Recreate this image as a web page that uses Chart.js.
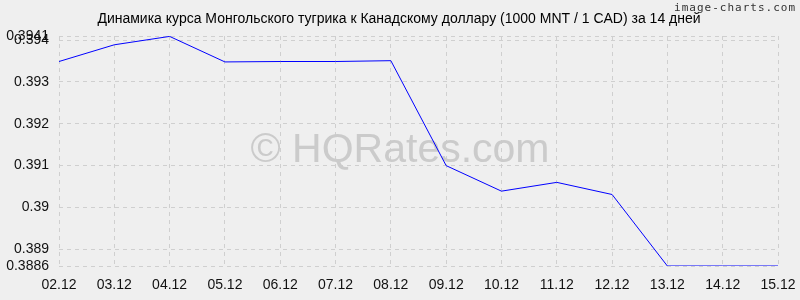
<!DOCTYPE html>
<html><head><meta charset="utf-8">
<script src="https://cdn.jsdelivr.net/npm/chart.js@4"></script>
<style>html,body{margin:0;padding:0;background:#efefef}#w{width:800px;height:300px}</style>
</head><body><div id="w"><canvas id="c" width="800" height="300"></canvas></div>
<script>
const categories = ["02.12","03.12","04.12","05.12","06.12","07.12","08.12","09.12","10.12","11.12","12.12","13.12","14.12","15.12"];
const rates = [0.39349,0.39389,0.39409,0.39348,0.39349,0.39349,0.39351,0.39100,0.39039,0.39060,0.39031,0.3886,0.3886,0.3886];
const yTicks = [0.3886,0.389,0.39,0.391,0.392,0.393,0.394,0.3941];
const titleText = "Динамика курса Монгольского тугрика к Канадскому доллару (1000 MNT / 1 CAD) за 14 дней";
const watermarkText = "© HQRates.com";
const creditText = "image-charts.com";

const deco = {
  id:'deco',
  beforeDraw(chart){
    const c = chart.ctx;
    c.save();
    c.fillStyle = '#efefef';
    c.fillRect(0,0,chart.width,chart.height);
    c.restore();
  },
  beforeDatasetsDraw(chart){
    const c = chart.ctx;
    c.save();
    c.fillStyle = '#cbcbcb';
    c.font = '41px "Liberation Sans", Arial, sans-serif';
    c.textAlign = 'center'; c.textBaseline = 'alphabetic';
    c.fillText(watermarkText, 400, 162);
    c.restore();
  },
  afterDraw(chart){
    const c = chart.ctx;
    c.save();
    c.fillStyle = '#000';
    c.font = '14px "Liberation Sans", Arial, sans-serif';
    c.textAlign = 'center'; c.textBaseline = 'alphabetic';
    c.fillText(titleText, 399, 23);
    c.fillStyle = '#333';
    c.font = '11px "DejaVu Sans Mono", monospace';
    c.letterSpacing = '1px';
    c.textAlign = 'right';
    c.fillText(creditText, 796, 11);
    c.restore();
  }
};

new Chart(document.getElementById('c'), {
  type:'line',
  data:{labels:categories, datasets:[{data:rates, borderColor:'#0000ff', borderWidth:1, pointRadius:0, tension:0, fill:false}]},
  plugins:[deco],
  options:{
    responsive:false, animation:false,
    layout:{padding:{left:0,right:22,top:36,bottom:0}},
    plugins:{legend:{display:false}, tooltip:{enabled:false}},
    scales:{
      x:{
        offset:false,
        grid:{color:'#cfcfcf', drawTicks:false},
        border:{display:false, dash:[4,4]},
        ticks:{color:'#111', font:{family:'"Liberation Sans", Arial, sans-serif', size:14}, padding:11, maxRotation:0, autoSkip:false},
        afterFit(s){ s.height = 34; s.paddingRight = 0; s.paddingLeft = 0; }
      },
      y:{
        min:0.3886, max:0.3941,
        grid:{color:'#cfcfcf', drawTicks:false},
        border:{display:false, dash:[4,4]},
        ticks:{color:'#111', font:{family:'"Liberation Sans", Arial, sans-serif', size:14}, padding:10, autoSkip:false,
          callback:(v)=>String(+v.toFixed(4))},
        afterBuildTicks(s){ s.ticks = yTicks.map(v=>({value:v})); },
        afterFit(s){ s.width = 59; s.paddingTop = 0; s.paddingBottom = 0; }
      }
    }
  }
});
</script></body></html>
